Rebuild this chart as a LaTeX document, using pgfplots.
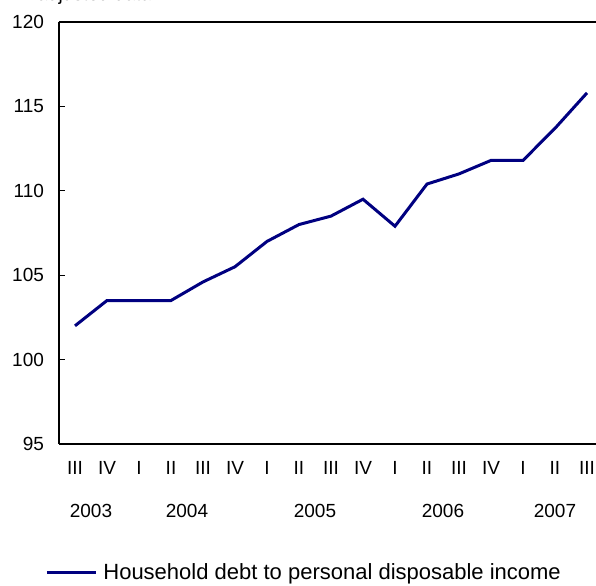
\documentclass[border=0pt]{standalone}
\usepackage{pgfplots}
\pgfplotsset{compat=1.18}
\usepackage{fontspec}
\setmainfont{Liberation Sans}
\definecolor{navyline}{RGB}{0,0,128}
\begin{document}
\begin{tikzpicture}
\begin{axis}[
  scale only axis,
  width=272pt, height=211pt,
  xmin=-0.5, xmax=16.5,
  ymin=95, ymax=120,
  ytick={95,100,...,120},
  xtick={0,...,16},
  xticklabels={III,IV,I,II,III,IV,I,II,III,IV,I,II,III,IV,I,II,III},
  major x tick style={draw=none},
  extra x ticks={0.5,1.5,...,15.5},
  extra x tick labels={},
  extra x tick style={tick style={black}, major tick length=2.5pt},
  tick align=inside,
  major tick length=3pt,
  axis x line*=bottom,
  axis y line*=left,
  tick style={black, line width=0.6pt},
  axis line style={line width=0.7pt},
  ytick pos=left,
  xtick pos=bottom,
  /pgf/number format/assume math mode=true,
  tick label style={font=\fontsize{9.5}{11}\selectfont},
  yticklabel style={xshift=-4pt},
  xticklabel style={yshift=-5pt},
  clip=false,
  legend style={draw=none, fill=none, inner sep=0pt, at={(axis description cs:0,0)}, anchor=west, xshift=-7pt, yshift=-64.5pt, font=\fontsize{11}{13}\selectfont, legend cell align=left},
  legend image code/.code={\draw[#1] (0pt,0pt) -- (24.5pt,0pt); \path (25.5pt,0pt);},
]
\addplot[color=navyline, line width=1.5pt] coordinates {
(0,102.0) (1,103.5) (2,103.5) (3,103.5) (4,104.6) (5,105.5) (6,107.0) (7,108.0) (8,108.5) (9,109.5) (10,107.9) (11,110.4) (12,111.0) (13,111.8) (14,111.8) (15,113.7) (16,115.8)
};
\addlegendentry{Household debt to personal disposable income}
\draw[black, line width=0.7pt] (rel axis cs:0,1) -- (rel axis cs:1,1);
\node[font=\fontsize{9.5}{11}\selectfont] at ([yshift=-33.5pt]axis cs:0.5,95) {2003};
\node[font=\fontsize{9.5}{11}\selectfont] at ([yshift=-33.5pt]axis cs:3.5,95) {2004};
\node[font=\fontsize{9.5}{11}\selectfont] at ([yshift=-33.5pt]axis cs:7.5,95) {2005};
\node[font=\fontsize{9.5}{11}\selectfont] at ([yshift=-33.5pt]axis cs:11.5,95) {2006};
\node[font=\fontsize{9.5}{11}\selectfont] at ([yshift=-33.5pt]axis cs:15,95) {2007};
\coordinate (sw) at (rel axis cs:0,0);
\coordinate (nw) at (rel axis cs:0,1);
\node[overlay, anchor=base west, inner sep=0pt, font=\fontsize{9.5}{11}\selectfont] at ([xshift=-11pt, yshift=10.5pt]nw) {adjusted data.};
\end{axis}
\pgfresetboundingbox
\path[use as bounding box] ([xshift=-29.5pt,yshift=-71pt]sw) rectangle ([xshift=268.5pt,yshift=11pt]nw);
\end{tikzpicture}
\end{document}
